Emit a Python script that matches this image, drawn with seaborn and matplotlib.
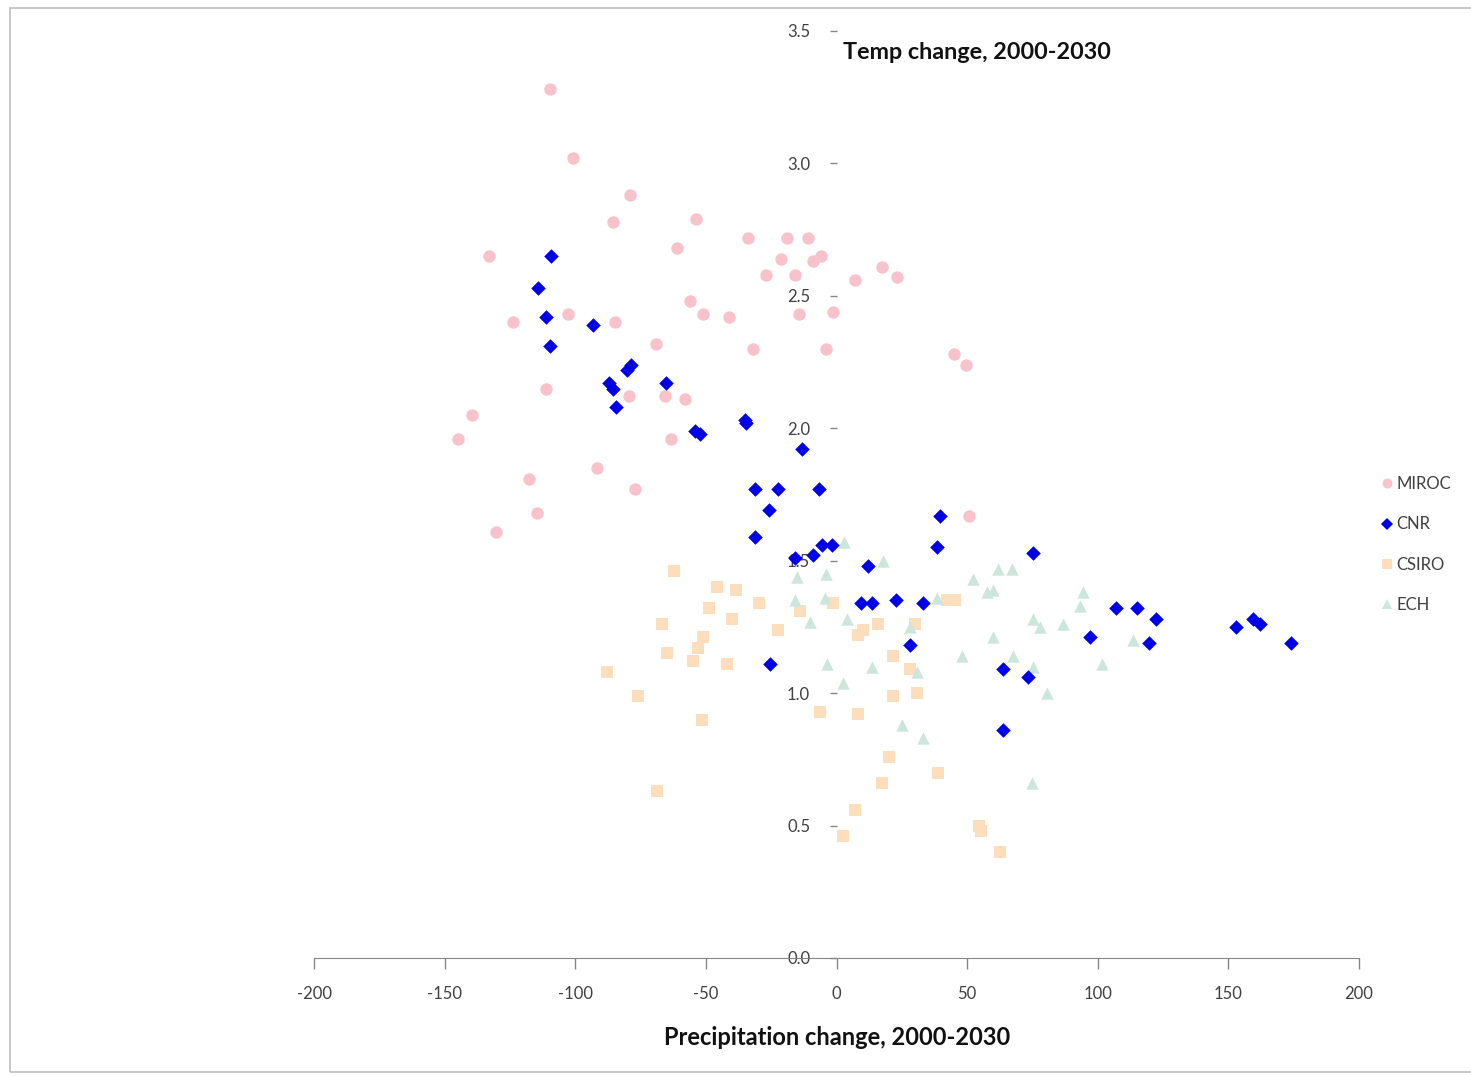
import matplotlib
matplotlib.use("Agg")
import matplotlib.pyplot as plt
from matplotlib.lines import Line2D
import numpy as np
import pandas as pd
import seaborn as sns

# precipitation change (x) and temperature change (y) per model run
miroc_x = [-109.7, -100.9, -79.0, -85.6, -53.8, -61.1, -133.0, -33.9, -18.9, -10.9,
           -21.2, -9.0, -5.9, -27.0, -15.9, 7.1, 17.4, 23.2, -56.1, -51.1,
           -41.1, -14.4, -1.3, -123.8, -102.8, -84.8, -32.0, -4.0, -69.1, 45.0,
           49.6, -111.2, -79.4, -65.6, -58.0, -139.5, -144.9, -63.4, -91.7, -117.7,
           -77.1, -114.6, -130.3, 50.7]
miroc_y = [3.28, 3.02, 2.88, 2.78, 2.79, 2.68, 2.65, 2.72, 2.72, 2.72,
           2.64, 2.63, 2.65, 2.58, 2.58, 2.56, 2.61, 2.57, 2.48, 2.43,
           2.42, 2.43, 2.44, 2.40, 2.43, 2.40, 2.30, 2.30, 2.32, 2.28,
           2.24, 2.15, 2.12, 2.12, 2.11, 2.05, 1.96, 1.96, 1.85, 1.81,
           1.77, 1.68, 1.61, 1.67]

cnr_x = [-109.3, -114.3, -111.2, -93.2, -109.7, -87.1, -85.6, -80.2, -78.7, -84.4,
         -65.3, -54.2, -52.2, -35.0, -34.6, -13.2, -31.2, -22.4, -6.7, -25.8,
         -31.2, 39.6, 38.5, 75.2, -15.9, -9.0, -5.6, -1.7, 12.1, 9.4,
         13.6, 22.8, 33.1, 28.1, -25.5, 63.7, 73.3, 63.7, 97.0, 107.0,
         115.0, 122.3, 119.6, 152.9, 159.4, 162.1, 174.0]
cnr_y = [2.65, 2.53, 2.42, 2.39, 2.31, 2.17, 2.15, 2.22, 2.24, 2.08,
         2.17, 1.99, 1.98, 2.03, 2.02, 1.92, 1.77, 1.77, 1.77, 1.69,
         1.59, 1.67, 1.55, 1.53, 1.51, 1.52, 1.56, 1.56, 1.48, 1.34,
         1.34, 1.35, 1.34, 1.18, 1.11, 1.09, 1.06, 0.86, 1.21, 1.32,
         1.32, 1.28, 1.19, 1.25, 1.28, 1.26, 1.19]

csiro_x = [-62.2, -45.7, -38.5, -48.8, -29.7, -66.8, -40.0, -22.4, -64.9, -51.1,
           -53.0, -54.9, -41.9, -87.8, -76.0, -51.5, -14.0, -1.3, 8.2, -6.3,
           8.2, 21.6, 30.8, 20.1, 17.4, 38.9, -68.7, 7.1, 2.5, 54.5,
           62.6, 42.3, 45.4, 10.1, 30.0, 21.6, 28.1, 15.9, 55.3]
csiro_y = [1.46, 1.40, 1.39, 1.32, 1.34, 1.26, 1.28, 1.24, 1.15, 1.21,
           1.17, 1.12, 1.11, 1.08, 0.99, 0.90, 1.31, 1.34, 1.22, 0.93,
           0.92, 0.99, 1.00, 0.76, 0.66, 0.70, 0.63, 0.56, 0.46, 0.50,
           0.40, 1.35, 1.35, 1.24, 1.26, 1.14, 1.09, 1.26, 0.48]

ech_x = [-4.0, 2.9, 17.8, -15.1, -4.4, -15.9, 4.0, -10.1, -3.6, 2.5,
         13.6, 30.8, 25.1, 33.1, 48.0, 52.2, 61.8, 67.2, 57.6, 59.9,
         94.4, 93.2, 75.2, 77.9, 86.7, 59.9, 67.6, 80.6, 75.2, 101.6,
         113.5, 74.8, 38.5, 28.1]
ech_y = [1.45, 1.57, 1.50, 1.44, 1.36, 1.35, 1.28, 1.27, 1.11, 1.04,
         1.10, 1.08, 0.88, 0.83, 1.14, 1.43, 1.47, 1.47, 1.38, 1.39,
         1.38, 1.33, 1.28, 1.25, 1.26, 1.21, 1.14, 1.00, 1.10, 1.11,
         1.20, 0.66, 1.36, 1.25]

x_ticks = [-200, -150, -100, -50, 0, 50, 100, 150, 200]
y_ticks = [0.0, 0.5, 1.0, 1.5, 2.0, 2.5, 3.0, 3.5]

series = {
    "MIROC": (miroc_x, miroc_y, "o", "#F7C2CB", 80),
    "CNR": (cnr_x, cnr_y, "D", "#0000E6", 55),
    "CSIRO": (csiro_x, csiro_y, "s", "#FCDDBC", 85),
    "ECH": (ech_x, ech_y, "^", "#CCE6DC", 80),
}
legend_order = ["MIROC", "CNR", "CSIRO", "ECH"]
draw_order = ["MIROC", "CSIRO", "ECH", "CNR"]

sns.set_style("white")
plt.rcParams["font.family"] = ["Lato", "DejaVu Sans"]
plt.rcParams["axes.unicode_minus"] = False

fig = plt.figure(figsize=(14.71, 10.76), dpi=100)
ax = fig.add_axes([0.2135, 0.1097, 0.7104, 0.8615])

for name in draw_order:
    xs, ys, marker, color, size = series[name]
    df = pd.DataFrame({"Precip": xs, "Temp": ys})
    sns.scatterplot(data=df, x="Precip", y="Temp", ax=ax, marker=marker,
                    color=color, s=size, linewidth=0, label=name, legend=False)

ax.set_xlim(-200, 200)
ax.set_ylim(0, 3.5)
ax.set_xticks(x_ticks)
ax.set_yticks(y_ticks)
ax.set_xticklabels([str(t) for t in x_ticks])
ax.set_yticklabels([f"{t:.1f}" for t in y_ticks])
ax.set_xlabel("")
ax.set_ylabel("")

for side in ["top", "right"]:
    ax.spines[side].set_visible(False)
ax.spines["bottom"].set_color("#868686")
ax.spines["left"].set_position(("data", 0))
ax.spines["left"].set_visible(False)

ax.tick_params(axis="x", direction="out", length=8, width=1, color="#868686",
               labelsize=12, labelcolor="#404040", pad=12.5, bottom=True)
ax.tick_params(axis="y", direction="out", length=5, width=1, color="#868686",
               labelsize=12, labelcolor="#404040", pad=14, left=True)

fig.text(0.664, 0.951, "Temp change, 2000-2030", fontsize=16.8, fontweight="bold",
         ha="center", va="center", color="#111111")
fig.text(0.569, 0.036, "Precipitation change, 2000-2030", fontsize=17,
         fontweight="bold", ha="center", va="center", color="#111111")

handles = []
for name in legend_order:
    xs, ys, marker, color, size = series[name]
    handles.append(Line2D([], [], linestyle="none", marker=marker, color=color,
                          markersize=np.sqrt(size) * 0.8, markeredgewidth=0))
fig.legend(handles, legend_order, loc="center left", bbox_to_anchor=(0.937, 0.494),
           frameon=False, fontsize=12, labelcolor="#404040", handletextpad=0.1,
           handlelength=1.0, labelspacing=1.45, borderpad=0, borderaxespad=0)

fig.add_artist(plt.Rectangle((0.0068, 0.0037), 1.0, 0.9889, transform=fig.transFigure,
                             fill=False, edgecolor="#BFBFBF", linewidth=1.2))

fig.savefig("out.png", dpi=100)
